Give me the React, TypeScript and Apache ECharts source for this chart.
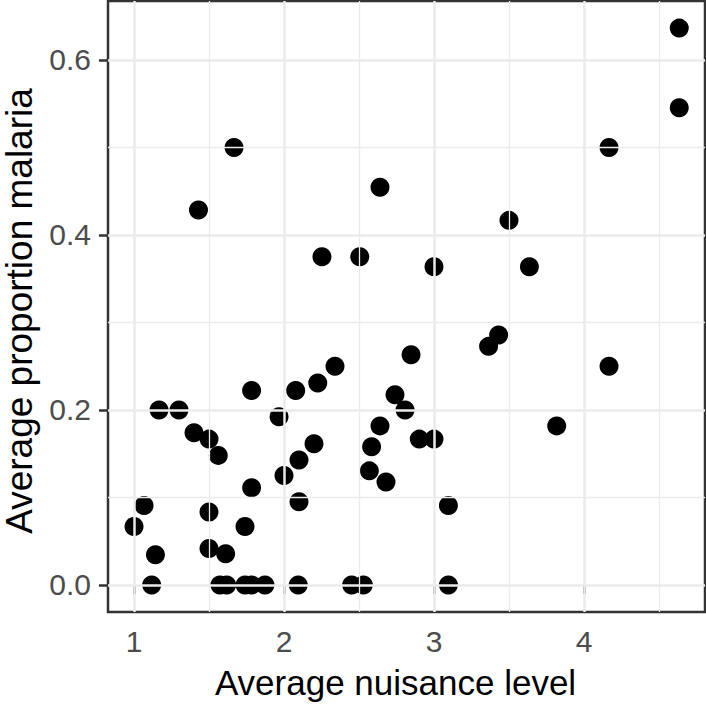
import React, { useEffect, useRef } from "react";
import * as echarts from "echarts";

const nuisance: number[] = [
  1.667, 1.43, 2.64, 2.253, 2.505, 4.635, 4.635, 4.167, 3.5, 3.0, 3.636,
  1.167, 1.3, 1.4, 1.5, 1.562, 1.067, 1.0, 1.143, 1.118, 1.5, 1.5, 1.611,
  1.784, 1.784, 1.74, 1.573, 1.618, 1.74, 1.784, 1.873, 2.095, 2.451, 2.529,
  1.967, 2.078, 2.225, 2.34, 2.0, 2.1, 2.2, 2.1, 2.74, 2.807, 2.847, 2.64,
  2.584, 2.569, 2.68, 3.431, 3.364, 4.167, 3.818, 2.902, 3.0, 3.096, 3.096,
];
const malaria: number[] = [
  0.5, 0.4286, 0.4545, 0.375, 0.375, 0.6364, 0.5455, 0.5, 0.4167, 0.3636, 0.3636,
  0.2, 0.2, 0.1739, 0.1667, 0.1481, 0.0909, 0.0667, 0.0345, 0, 0.0833, 0.0417, 0.0357,
  0.2222, 0.1111, 0.0667, 0, 0, 0, 0, 0, 0, 0, 0,
  0.1923, 0.2222, 0.2308, 0.25, 0.125, 0.1429, 0.1613, 0.0952, 0.2174, 0.2, 0.2632, 0.1818,
  0.1579, 0.1304, 0.1176, 0.2857, 0.2727, 0.25, 0.1818, 0.1667, 0.1667, 0.0909, 0,
];

const xTicks: number[] = [1, 2, 3, 4];
const xMinor: number[] = [1.5, 2.5, 3.5, 4.5];
const yTicks: number[] = [0, 0.2, 0.4, 0.6];
const yMinor: number[] = [0.1, 0.3, 0.5];

const FONT = "'Liberation Sans', Arial, Helvetica, sans-serif";

export default function App() {
  const ref = useRef<HTMLDivElement>(null);
  useEffect(() => {
    document.body.style.margin = "0";
    const chart = echarts.init(ref.current!, null, { renderer: "svg" });
    const majorStyle = { color: "#EBEBEB", width: 2.5, type: "solid" as const };
    const minorStyle = { color: "#EBEBEB", width: 1.3, type: "solid" as const };
    chart.setOption({
      animation: false,
      backgroundColor: "#ffffff",
      textStyle: { fontFamily: FONT },
      grid: {
        left: 108,
        right: 1,
        top: 1,
        bottom: 95,
        containLabel: false,
        outerBoundsMode: "none",
        show: true,
        borderColor: "#333333",
        borderWidth: 2.5,
        backgroundColor: "#ffffff",
        z: 0,
      },
      xAxis: {
        type: "value",
        min: 0.8267,
        max: 4.8067,
        name: "Average nuisance level",
        nameLocation: "middle",
        nameGap: 53,
        nameTextStyle: {
          fontSize: 35,
          color: "#000000",
          fontFamily: FONT,
          padding: [0, 22, 0, 0],
        },
        axisLine: { show: false },
        splitLine: { show: false },
        axisTick: {
          show: true,
          length: 9,
          customValues: xTicks,
          lineStyle: { color: "#333333", width: 2.5 },
        },
        axisLabel: {
          customValues: xTicks,
          fontSize: 30,
          color: "#4D4D4D",
          margin: 14,
          fontFamily: FONT,
          formatter: (v: number) => String(v),
        },
      },
      yAxis: {
        type: "value",
        min: -0.0309,
        max: 0.6674,
        name: "Average proportion malaria",
        nameLocation: "middle",
        nameGap: 70,
        nameRotate: 90,
        nameTextStyle: {
          fontSize: 37,
          color: "#000000",
          fontFamily: FONT,
          padding: [0, 9, 0, 0],
        },
        axisLine: { show: false },
        splitLine: { show: false },
        axisTick: {
          show: true,
          length: 9,
          customValues: yTicks,
          lineStyle: { color: "#333333", width: 2.5 },
        },
        axisLabel: {
          customValues: yTicks,
          fontSize: 30,
          color: "#4D4D4D",
          margin: 17,
          fontFamily: FONT,
          formatter: (v: number) => v.toFixed(1),
        },
      },
      series: [
        {
          type: "scatter",
          data: [],
          z: 1,
          silent: true,
          markLine: {
            silent: true,
            symbol: ["none", "none"],
            label: { show: false },
            animation: false,
            data: [
              ...xMinor.map((v) => ({ xAxis: v, lineStyle: minorStyle })),
              ...yMinor.map((v) => ({ yAxis: v, lineStyle: minorStyle })),
              ...xTicks.map((v) => ({ xAxis: v, lineStyle: majorStyle })),
              ...yTicks.map((v) => ({ yAxis: v, lineStyle: majorStyle })),
            ],
          },
        },
        {
          type: "scatter",
          z: 3,
          symbol: "circle",
          symbolSize: 19,
          itemStyle: { color: "#000000", opacity: 1 },
          data: nuisance.map((x, i) => [x, malaria[i]]),
        },
      ],
    });
    return () => chart.dispose();
  }, []);
  return <div ref={ref} style={{ width: 706, height: 707 }} />;
}
